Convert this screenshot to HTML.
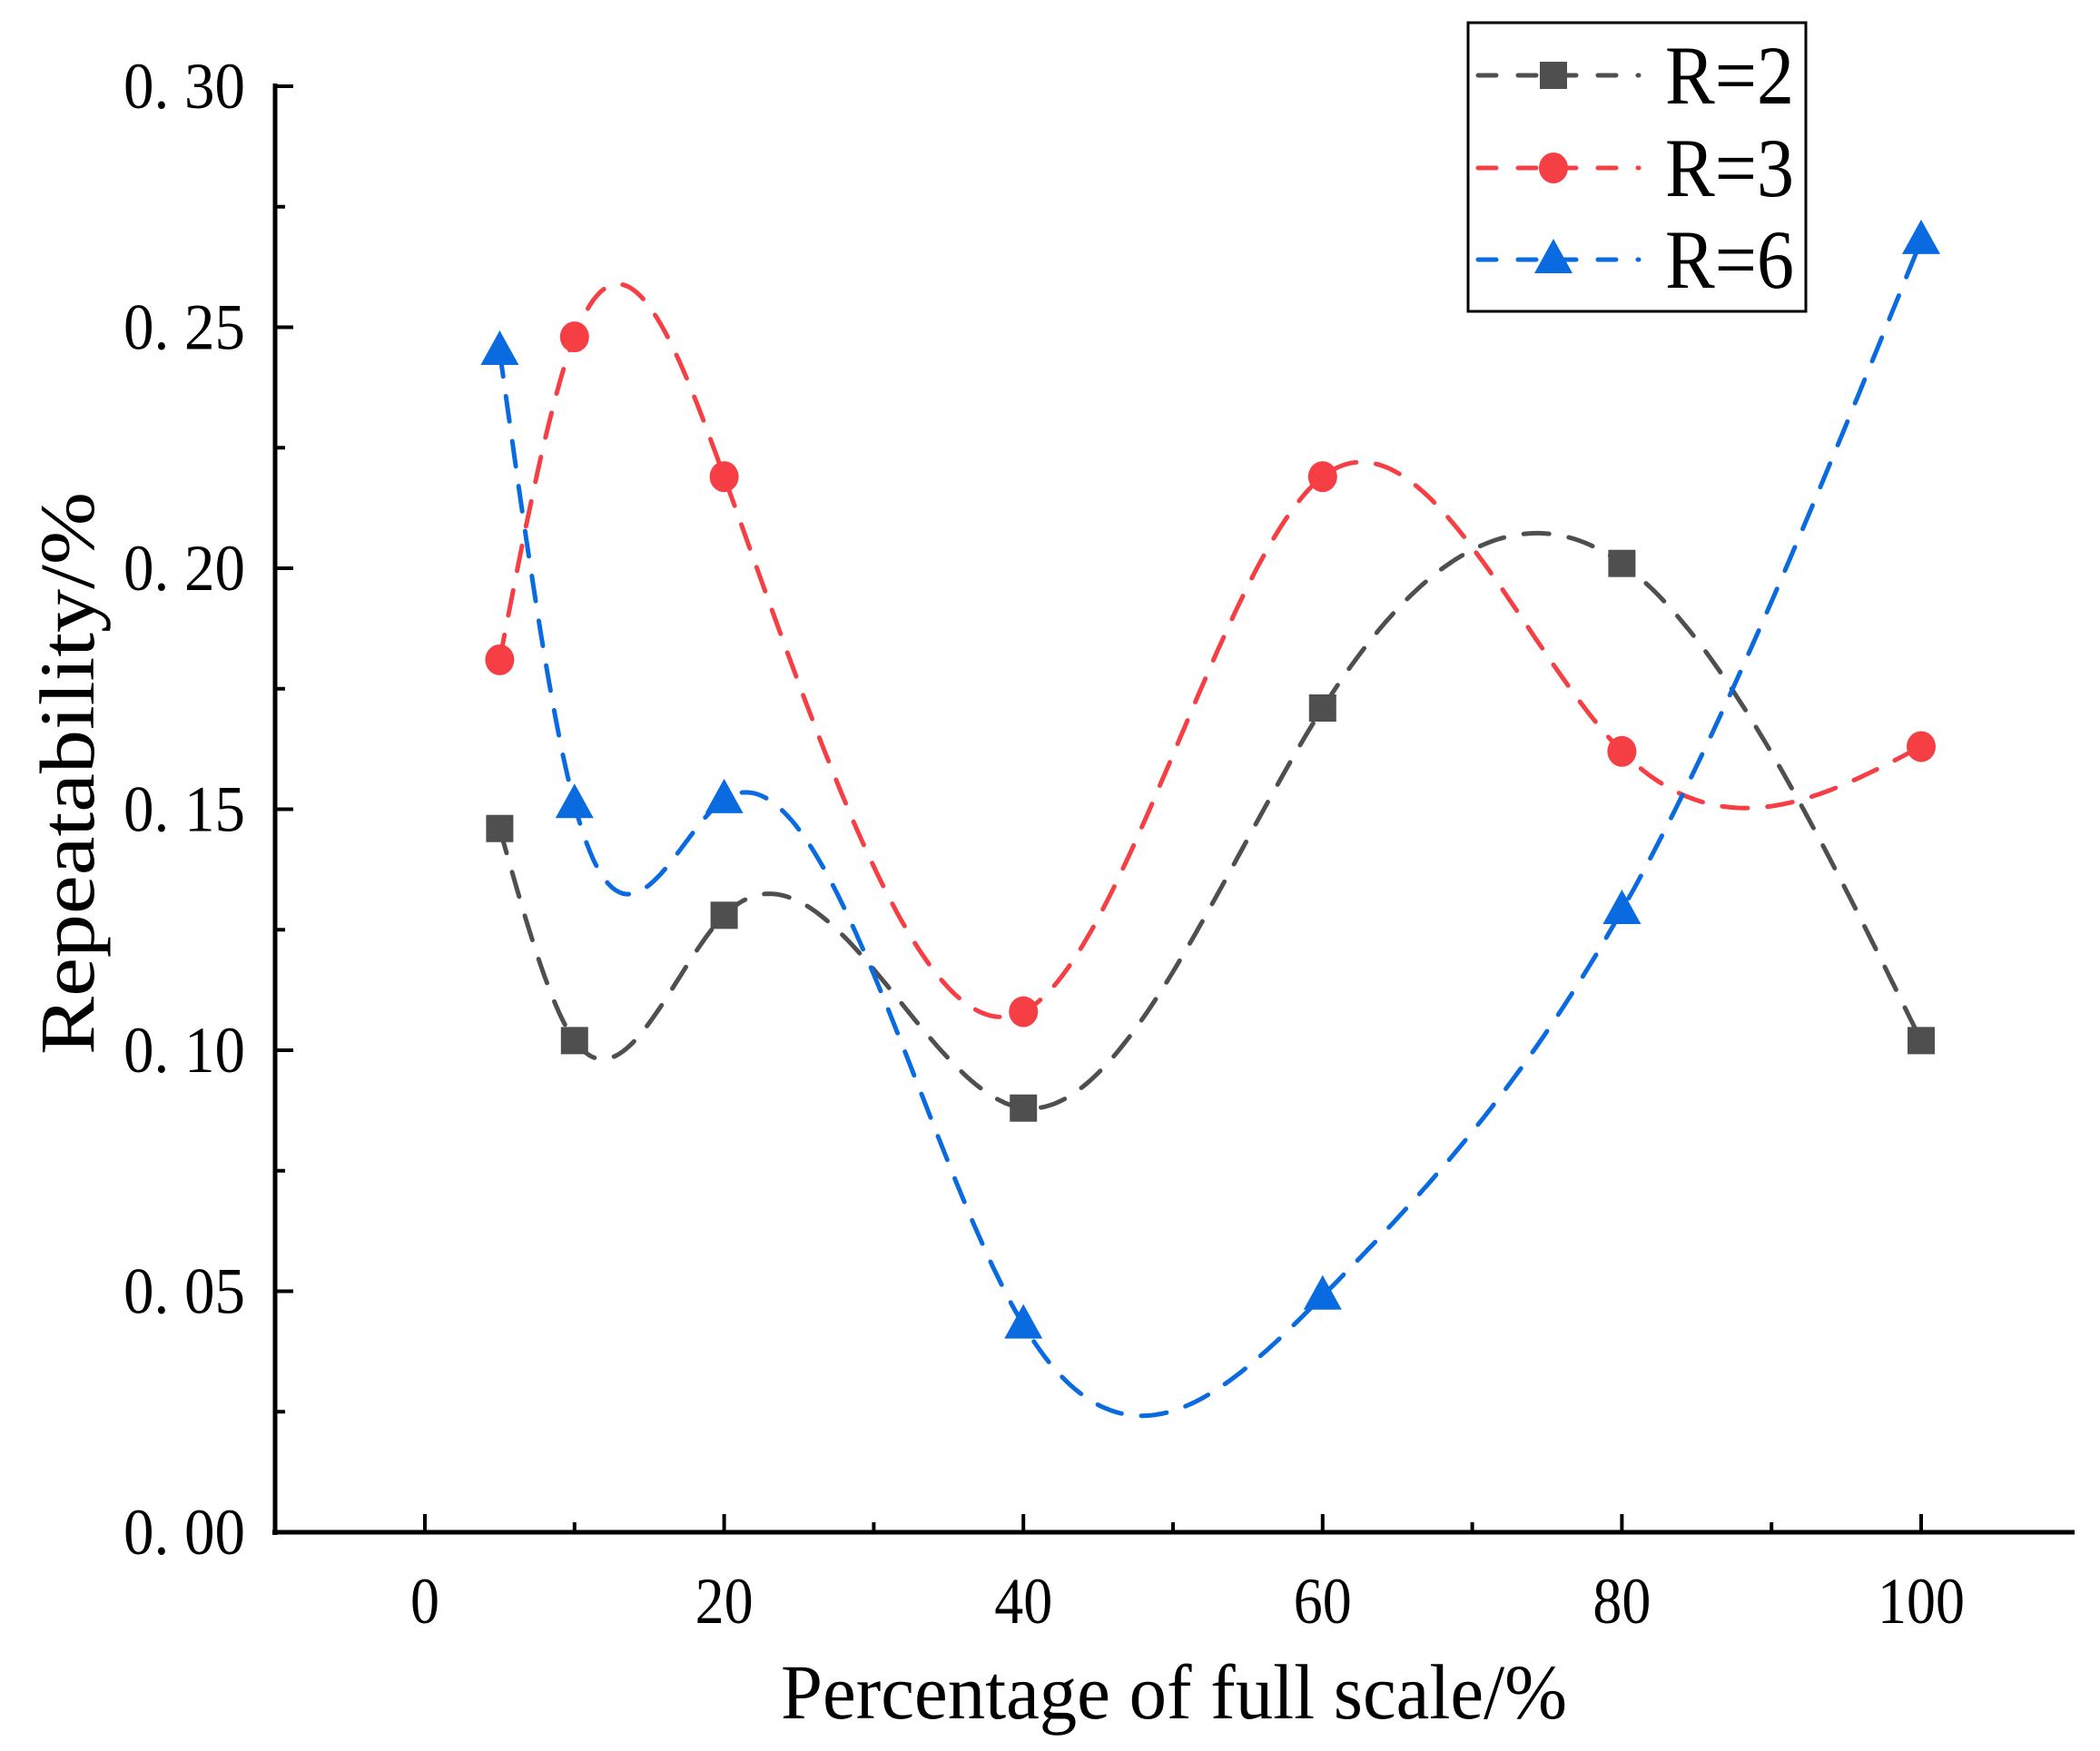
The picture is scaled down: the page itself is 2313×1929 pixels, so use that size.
<!DOCTYPE html>
<html><head><meta charset="utf-8"><style>html,body{margin:0;padding:0;background:#fff}svg{display:block}</style></head>
<body>
<svg id="chart" width="2313" height="1929" xmlns="http://www.w3.org/2000/svg" font-family="'Liberation Serif', serif">
<g id="axes"></g>
<g id="series"></g>
<g id="legend"></g>
</svg>
<script>
const categories = [5, 10, 20, 40, 60, 80, 100];
const seriesR2 = [0.146, 0.102, 0.128, 0.088, 0.171, 0.201, 0.102];
const seriesR3 = [0.181, 0.248, 0.219, 0.108, 0.219, 0.162, 0.163];
const seriesR6 = [0.245, 0.151, 0.152, 0.043, 0.049, 0.129, 0.268];
const seriesNames = ["R=2", "R=3", "R=6"];
const xTickLabels = ["0", "20", "40", "60", "80", "100"];
const yTickLabels = ["0. 00", "0. 05", "0. 10", "0. 15", "0. 20", "0. 25", "0. 30"];

const NS = "http://www.w3.org/2000/svg";
const X0 = 468, X100 = 2116, Y0 = 1688, Y30 = 95;
const xs = v => X0 + (X100 - X0) * v / 100;
const ys = v => Y0 - (Y0 - Y30) * v / 0.3;
function mk(tag, attrs, parent) {
  const e = document.createElementNS(NS, tag);
  for (const k in attrs) e.setAttribute(k, attrs[k]);
  parent.appendChild(e); return e;
}
const axes = document.getElementById('axes');
const AX = 303, AXR = 2285;
let yl = mk('line', {x1: AX, y1: Y30 - 3, x2: AX, y2: Y0 + 3, stroke: '#000', 'stroke-width': 5}, axes);


let xl = mk('line', {x1: AX - 3, y1: Y0, x2: AXR, y2: Y0, stroke: '#000', 'stroke-width': 5}, axes);


for (let i = 0; i <= 12; i++) {
  const v = i * 0.025, y = ys(v), major = i % 2 === 0;
  const t = mk('line', {x1: AX, y1: y, x2: AX + (major ? 20 : 11), y2: y, stroke: '#000', 'stroke-width': 4}, axes);
  
  
  if (major) {
    const lab = yTickLabels[i / 2];
    const tx = mk('text', {x: 270, y: y + 24, 'font-size': 72, 'text-anchor': 'end', textLength: 134, lengthAdjust: 'spacingAndGlyphs'}, axes);
    tx.textContent = lab;
    
    
  }
}
for (let v = 0; v <= 100; v += 10) {
  const x = xs(v), major = v % 20 === 0;
  const t = mk('line', {x1: x, y1: Y0, x2: x, y2: Y0 - (major ? 20 : 11), stroke: '#000', 'stroke-width': 4}, axes);
  
  
  if (major) {
    const lab = xTickLabels[v / 20];
    const tx = mk('text', {x: x, y: 1788, 'font-size': 72, 'text-anchor': 'middle', textLength: lab.length * 32, lengthAdjust: 'spacingAndGlyphs'}, axes);
    tx.textContent = lab;
    
    
  }
}
let xt = mk('text', {x: 1293, y: 1893, 'font-size': 86, 'text-anchor': 'middle', textLength: 866, lengthAdjust: 'spacingAndGlyphs'}, axes);
xt.textContent = 'Percentage of full scale/%';


let yt = mk('text', {x: 0, y: 0, 'font-size': 86, 'text-anchor': 'middle', textLength: 620, lengthAdjust: 'spacingAndGlyphs', transform: 'translate(103,852) rotate(-90)'}, axes);
yt.textContent = 'Repeatability/%';



function spline(xa, ya) {
  const n = xa.length, h = [], al = [], l = [1], mu = [0], z = [0], c = new Array(n).fill(0), b = [], d = [];
  for (let i = 0; i < n - 1; i++) h[i] = xa[i + 1] - xa[i];
  for (let i = 1; i < n - 1; i++) al[i] = 3 / h[i] * (ya[i + 1] - ya[i]) - 3 / h[i - 1] * (ya[i] - ya[i - 1]);
  for (let i = 1; i < n - 1; i++) {
    l[i] = 2 * (xa[i + 1] - xa[i - 1]) - h[i - 1] * mu[i - 1];
    mu[i] = h[i] / l[i]; z[i] = (al[i] - h[i - 1] * z[i - 1]) / l[i];
  }
  for (let j = n - 2; j >= 0; j--) {
    c[j] = z[j] - mu[j] * c[j + 1];
    b[j] = (ya[j + 1] - ya[j]) / h[j] - h[j] * (c[j + 1] + 2 * c[j]) / 3;
    d[j] = (c[j + 1] - c[j]) / (3 * h[j]);
  }
  return t => {
    let j = 0; while (j < n - 2 && t > xa[j + 1]) j++;
    const dx = t - xa[j];
    return ya[j] + b[j] * dx + c[j] * dx * dx + d[j] * dx * dx * dx;
  };
}
const colors = ['#4f4f4f', '#f63f44', '#0a6be0'];
const allSeries = [seriesR2, seriesR3, seriesR6];
const sg = document.getElementById('series');
function marker(kind, x, y, color, parent) {
  let m;
  if (kind === 0) m = mk('rect', {x: x - 15, y: y - 15, width: 30, height: 30, fill: color}, parent);
  else if (kind === 1) m = mk('ellipse', {cx: x, cy: y, rx: 16, ry: 17, fill: color}, parent);
  else m = mk('polygon', {points: `${x},${y - 23} ${x - 21},${y + 15} ${x + 21},${y + 15}`, fill: color}, parent);
  return m;
}
allSeries.forEach((vals, si) => {
  const g = mk('g', {}, sg);
  
  
  const f = spline(categories, vals);
  let d = '';
  const a = categories[0], bnd = categories[categories.length - 1];
  for (let t = a; t <= bnd + 1e-9; t += 0.25) d += (d ? 'L' : 'M') + xs(t).toFixed(1) + ',' + ys(f(t)).toFixed(1);
  const p = mk('path', {d: d, fill: 'none', stroke: colors[si], 'stroke-width': 5, 'stroke-dasharray': '28 22', 'stroke-linecap': 'round'}, g);
  
  
  categories.forEach((c, i) => {
    const m = marker(si, xs(c), ys(vals[i]), colors[si], g);
    
    
  });
});
const lg = document.getElementById('legend');
const box = mk('rect', {x: 1617, y: 25, width: 372, height: 318, fill: '#fff', stroke: '#000', 'stroke-width': 3}, lg);


const rowsY = [83, 185, 286];
seriesNames.forEach((nm, si) => {
  const g = mk('g', {}, lg);
  
  
  const y = rowsY[si];
  const ln = mk('line', {x1: 1628, y1: y, x2: 1805, y2: y, stroke: colors[si], 'stroke-width': 5, 'stroke-dasharray': '20 24', 'stroke-linecap': 'round'}, g);
  
  
  const m = marker(si, 1711, y, colors[si], g);
  
  
  const tx = mk('text', {x: 1834, y: y + 31, 'font-size': 92, textLength: 142, lengthAdjust: 'spacingAndGlyphs'}, g);
  tx.textContent = nm;
  
  
});
</script>
</body></html>
